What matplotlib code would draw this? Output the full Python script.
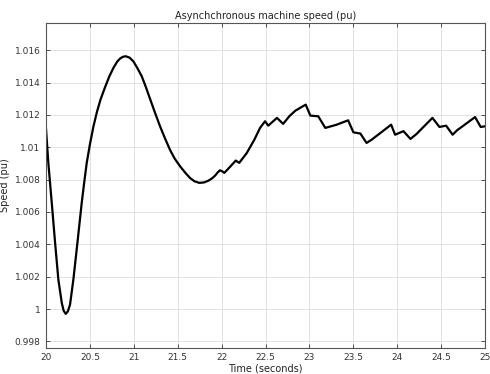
import numpy as np
import matplotlib.pyplot as plt
from matplotlib.ticker import FuncFormatter

# speed trace (seconds, pu)
time_s = [20.0, 20.026, 20.065, 20.103, 20.14, 20.179, 20.20, 20.224, 20.248,
          20.273, 20.311, 20.357, 20.406, 20.435, 20.463, 20.50, 20.54,
          20.58, 20.62, 20.672, 20.72, 20.767, 20.81, 20.843, 20.875,
          20.908, 20.95, 20.994, 21.04, 21.09, 21.135, 21.184, 21.24, 21.298,
          21.355, 21.41, 21.465, 21.526, 21.585, 21.64, 21.69, 21.746, 21.80,
          21.85, 21.89, 21.925, 21.955, 21.98, 22.005, 22.03, 22.10, 22.16,
          22.20, 22.286, 22.37, 22.437, 22.494, 22.53, 22.63, 22.70, 22.77,
          22.84, 22.957, 23.01, 23.10, 23.18, 23.31, 23.44, 23.50, 23.58,
          23.65, 23.71, 23.93, 23.975, 24.07, 24.15, 24.22, 24.40, 24.48,
          24.556, 24.63, 24.68, 24.886, 24.95, 25.0]
speed_pu = [1.0111, 1.00903, 1.00656, 1.00409, 1.00182, 1.00038, 0.99990,
            0.99970, 0.99985, 1.00027, 1.00182, 1.00409, 1.00656, 1.00785,
            1.00903, 1.01020, 1.01130, 1.01220, 1.01295, 1.01372, 1.01438,
            1.01491, 1.01530, 1.01549, 1.01560, 1.01563, 1.01555, 1.01532,
            1.01490, 1.01439, 1.01375, 1.01300, 1.01215, 1.01130, 1.01055,
            1.00986, 1.00930, 1.00883, 1.00843, 1.00810, 1.00790, 1.00780,
            1.00783, 1.00794, 1.00808, 1.00825, 1.00845, 1.00858, 1.00852,
            1.00842, 1.00882, 1.00918, 1.00904, 1.00965, 1.01045, 1.0112,
            1.01161, 1.01134, 1.01182, 1.01145, 1.01192, 1.01227, 1.01264,
            1.01196, 1.01192, 1.0112, 1.0114, 1.01167, 1.01093, 1.01085,
            1.01027, 1.01048, 1.0114, 1.01078, 1.0110, 1.01052, 1.01083,
            1.01182, 1.01126, 1.01134, 1.01078, 1.01105, 1.01187, 1.01126,
            1.0113]

x_ticks = [20, 20.5, 21, 21.5, 22, 22.5, 23, 23.5, 24, 24.5, 25]
y_ticks = [0.998, 1.0, 1.002, 1.004, 1.006, 1.008, 1.01, 1.012, 1.014, 1.016]

fig = plt.figure(figsize=(4.9, 3.74), dpi=100)
ax = fig.add_axes([0.094, 0.07, 0.896, 0.869])

ax.plot(time_s, speed_pu, color="black", linewidth=1.6, solid_joinstyle="round")

ax.set_xlim(20, 25)
ax.set_ylim(0.9976, 1.0177)
ax.set_xticks(x_ticks)
ax.set_yticks(y_ticks)
ax.xaxis.set_major_formatter(FuncFormatter(lambda v, p: "%g" % round(v, 4)))
ax.yaxis.set_major_formatter(FuncFormatter(lambda v, p: "%g" % round(v, 4)))
ax.tick_params(direction="in", top=True, right=True, labelsize=6.5,
               colors="#333333", length=3, width=0.6, pad=4)
ax.grid(True, color="#dddddd", linewidth=0.6)
for s in ax.spines.values():
    s.set_color("#555555")
    s.set_linewidth(0.8)

ax.set_title("Asynchchronous machine speed (pu)", fontsize=7, color="#222222", pad=3)
ax.set_xlabel("Time (seconds)", fontsize=7, color="#222222", labelpad=1)
ax.set_ylabel("Speed (pu)", fontsize=7, color="#222222", labelpad=3)

fig.savefig("out.png", dpi=100)
